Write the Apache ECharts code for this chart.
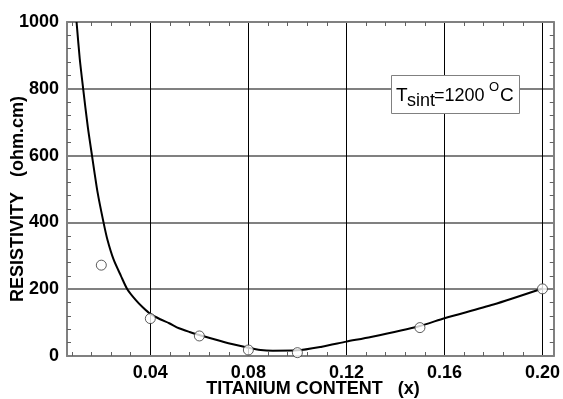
<!DOCTYPE html>
<html>
<head>
<meta charset="utf-8">
<script src="https://cdn.jsdelivr.net/npm/echarts@6/dist/echarts.min.js"></script>
<style>
  html, body { margin: 0; padding: 0; background: #fff; }
  #chart { width: 563px; height: 399px; }
</style>
</head>
<body>
<div id="chart"></div>
<script>
// measured points
const pointX = [0.02, 0.04, 0.06, 0.08, 0.10, 0.15, 0.20];
const pointY = [272, 112, 60, 18, 10, 85, 201];

// fitted curve
const curveX = [0.0099, 0.0112, 0.0126, 0.0145, 0.0162, 0.0185, 0.0209, 0.0225, 0.025, 0.028, 0.0306, 0.034, 0.037, 0.04,
                0.044, 0.0477, 0.0517, 0.056, 0.06, 0.07, 0.08, 0.085, 0.09, 0.10, 0.11, 0.12, 0.13, 0.15, 0.16, 0.18, 0.20];
const curveY = [1000, 890, 800, 685, 600, 489, 400, 348, 289, 240, 200, 168, 145, 126,
                110, 98, 83, 72, 63, 42, 25, 18, 16, 17, 28, 43, 57, 90, 113, 154, 202];

const xMajor = [0.04, 0.08, 0.12, 0.16, 0.20];
const xMinor = [0.008, 0.016, 0.024, 0.032, 0.048, 0.056, 0.064, 0.072, 0.088, 0.096, 0.104, 0.112,
                0.128, 0.136, 0.144, 0.152, 0.168, 0.176, 0.184, 0.192];

const X_MIN = 0.006, X_MAX = 0.2046;
const FONT = '"Liberation Sans", Arial, sans-serif';

let MyEcharts = echarts.init(document.getElementById('chart'));

const frame = { show: true, onZero: false, lineStyle: { color: '#808080', width: 2 } };
const minorTicks = { show: true, inside: true, length: 4, customValues: xMinor, lineStyle: { color: '#606060', width: 1 } };

let option = {
  backgroundColor: '#fff',
  animation: false,
  grid: { left: 67, top: 22, right: 6, bottom: 43 },
  xAxis: [
    {
      type: 'value', position: 'bottom', min: X_MIN, max: X_MAX,
      axisLine: frame,
      axisTick: minorTicks,
      axisLabel: {
        customValues: xMajor, margin: 8, color: '#000',
        fontFamily: FONT, fontWeight: 'bold', fontSize: 18,
        formatter: v => v.toFixed(2)
      },
      splitLine: { show: false }
    },
    {
      type: 'value', position: 'top', min: X_MIN, max: X_MAX,
      axisLine: frame,
      axisTick: minorTicks,
      axisLabel: { show: false },
      splitLine: { show: false }
    },
    {
      // only for the vertical grid lines
      type: 'value', position: 'bottom', min: X_MIN, max: X_MAX,
      axisLine: { show: false },
      axisTick: { show: false, customValues: xMajor },
      axisLabel: { show: false },
      splitLine: { show: true, lineStyle: { color: '#000', width: 1 } }
    }
  ],
  yAxis: [
    {
      type: 'value', position: 'left', min: 0, max: 1000, interval: 200,
      axisLine: frame,
      axisTick: { show: false, inside: true },
      minorTick: { show: true, splitNumber: 5, length: 4, lineStyle: { color: '#606060', width: 1 } },
      axisLabel: { margin: 8, color: '#000', fontFamily: FONT, fontWeight: 'bold', fontSize: 18, formatter: v => String(v) },
      splitLine: { show: true, lineStyle: { color: '#808080', width: 2 } }
    },
    {
      type: 'value', position: 'right', min: 0, max: 1000, interval: 200,
      axisLine: frame,
      axisTick: { show: false, inside: true },
      minorTick: { show: true, splitNumber: 5, length: 4, lineStyle: { color: '#606060', width: 1 } },
      axisLabel: { show: false },
      splitLine: { show: false }
    }
  ],
  series: [
    {
      type: 'line',
      xAxisIndex: 0, yAxisIndex: 0,
      data: curveX.map((x, i) => [x, curveY[i]]),
      smooth: 0.25,
      showSymbol: false,
      lineStyle: { color: '#000', width: 2 },
      z: 3
    },
    {
      type: 'scatter',
      xAxisIndex: 0, yAxisIndex: 0,
      data: pointX.map((x, i) => [x, pointY[i]]),
      symbol: 'circle',
      symbolSize: 10,
      itemStyle: { color: '#fff', borderColor: '#333', borderWidth: 1 },
      z: 4
    }
  ],
  graphic: [
    {
      type: 'text', z: 100, x: 18, y: 199, rotation: Math.PI / 2,
      style: { text: 'RESISTIVITY   (ohm.cm)', font: 'bold 18px ' + FONT, fill: '#000', align: 'center', verticalAlign: 'middle' }
    },
    {
      type: 'text', z: 100, x: 313, y: 389,
      style: { text: 'TITANIUM CONTENT   (x)', font: 'bold 18px ' + FONT, fill: '#000', align: 'center', verticalAlign: 'middle' }
    },
    {
      type: 'rect', z: 100,
      shape: { x: 391.5, y: 75.5, width: 128, height: 38 },
      style: { fill: '#fff', stroke: '#808080', lineWidth: 1 }
    },
    { type: 'text', z: 101, x: 396, y: 95.7, style: { text: 'T', font: '19px ' + FONT, fill: '#000', align: 'left', verticalAlign: 'middle' } },
    { type: 'text', z: 101, x: 407, y: 101.4, style: { text: 'sint', font: '18px ' + FONT, fill: '#000', align: 'left', verticalAlign: 'middle' } },
    { type: 'text', z: 101, x: 434, y: 95.7, style: { text: '=1200', font: '18px ' + FONT, fill: '#000', align: 'left', verticalAlign: 'middle' } },
    { type: 'text', z: 101, x: 489, y: 87.8, style: { text: 'O', font: '13px ' + FONT, fill: '#000', align: 'left', verticalAlign: 'middle' } },
    { type: 'text', z: 101, x: 500, y: 95.7, style: { text: 'C', font: '19px ' + FONT, fill: '#000', align: 'left', verticalAlign: 'middle' } }
  ]
};

MyEcharts.setOption(option);
window.addEventListener('resize', () => { MyEcharts.resize(); });
</script>
</body>
</html>
